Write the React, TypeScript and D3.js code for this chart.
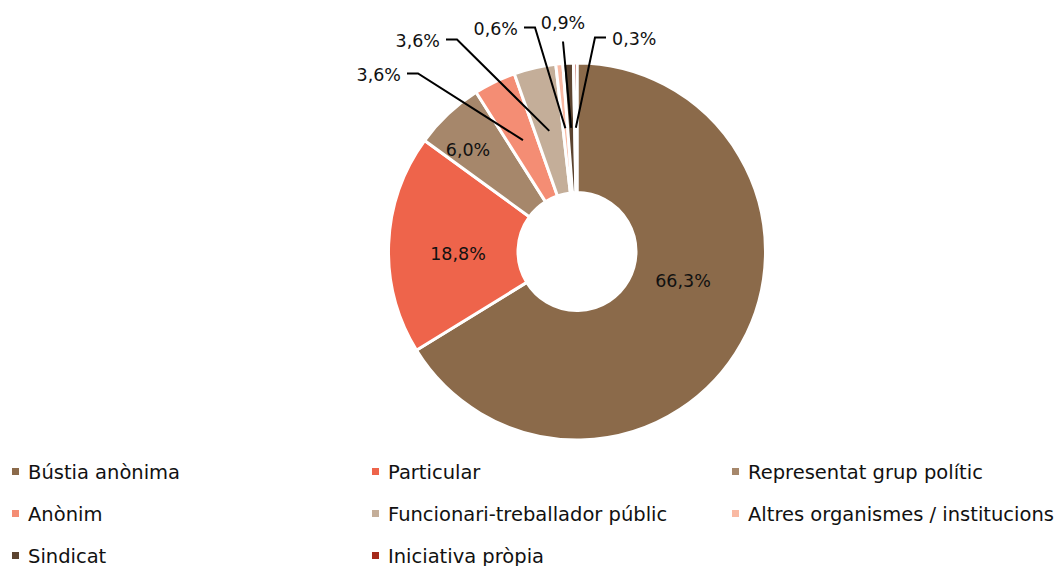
import React from "react";
import * as d3 from "d3";

const categories = [
  "Bústia anònima",
  "Particular",
  "Representat grup polític",
  "Anònim",
  "Funcionari-treballador públic",
  "Altres organismes / institucions",
  "Sindicat",
  "Iniciativa pròpia",
];
const values = [66.3, 18.8, 6.0, 3.6, 3.6, 0.6, 0.9, 0.3];
const valueLabels = ["66,3%", "18,8%", "6,0%", "3,6%", "3,6%", "0,6%", "0,9%", "0,3%"];
const colors = ["#8B6A4A", "#EE644B", "#A6876B", "#F48D74", "#C4AE99", "#F9B9A3", "#5C4430", "#A52A1A"];

// label layout (offsets relative to pie centre)
type Lay =
  | { kind: "in"; x: number; y: number }
  | { kind: "left" | "right"; ex: number; ey: number }
  | { kind: "up"; ex: number; ey: number };
const labelLayout: Lay[] = [
  { kind: "in", x: 106, y: 29 },
  { kind: "in", x: -119, y: 2 },
  { kind: "in", x: -109, y: -102 },
  { kind: "left", ex: -159, ey: -178 },
  { kind: "left", ex: -120, ey: -212 },
  { kind: "left", ex: -42, ey: -224 },
  { kind: "up", ex: -14, ey: -210 },
  { kind: "right", ex: 18, ey: -214 },
];

const W = 1059;
const H = 566;
const cx = 577;
const cy = 251.5;
const outerR = 188.5;
const innerR = 59;
const FONT = "'DejaVu Sans', sans-serif";
const LABEL_FS = 17.5;
const LEGEND_FS = 19.5;

export default function App() {
  const pie = d3
    .pie<number>()
    .value((d) => d)
    .sort(null)
    .startAngle(0)
    .endAngle(2 * Math.PI);
  const arcs = pie(values);
  const arc = d3.arc<d3.PieArcDatum<number>>().innerRadius(innerR).outerRadius(outerR);
  const midArc = d3
    .arc<d3.PieArcDatum<number>>()
    .innerRadius((innerR + outerR) / 2)
    .outerRadius((innerR + outerR) / 2);

  const legendX = d3.scaleOrdinal<number, number>().domain([0, 1, 2]).range([12, 372, 732]);
  const legendY = d3.scaleOrdinal<number, number>().domain([0, 1, 2]).range([479, 521, 563]);

  return (
    <svg
      width={W}
      height={H}
      style={{ position: "absolute", left: 0, top: 0, background: "#fff" }}
      fontFamily={FONT}
    >
      <g transform={`translate(${cx},${cy})`}>
        {arcs.map((a, i) => (
          <path key={i} d={arc(a) || ""} fill={colors[i]} stroke="#fff" strokeWidth={3} strokeLinejoin="round" />
        ))}
        {arcs.map((a, i) => {
          const lay = labelLayout[i];
          const [mx, my] = midArc.centroid(a);
          if (lay.kind === "in") {
            return (
              <text key={i} x={lay.x} y={lay.y} textAnchor="middle" dominantBaseline="central" fontSize={LABEL_FS} fill="#111">
                {valueLabels[i]}
              </text>
            );
          }
          if (lay.kind === "up") {
            return (
              <g key={i}>
                <line x1={mx} y1={my} x2={lay.ex} y2={lay.ey} stroke="#000" strokeWidth={2} />
                <text x={lay.ex} y={lay.ey - 19} textAnchor="middle" dominantBaseline="central" fontSize={LABEL_FS} fill="#111">
                  {valueLabels[i]}
                </text>
              </g>
            );
          }
          const dir = lay.kind === "left" ? -1 : 1;
          const hx = lay.ex + dir * 11;
          return (
            <g key={i}>
              <polyline
                points={`${mx},${my} ${lay.ex},${lay.ey} ${hx},${lay.ey}`}
                fill="none"
                stroke="#000"
                strokeWidth={2}
              />
              <text
                x={hx + dir * 6}
                y={lay.ey + 1}
                textAnchor={dir < 0 ? "end" : "start"}
                dominantBaseline="central"
                fontSize={LABEL_FS}
                fill="#111"
              >
                {valueLabels[i]}
              </text>
            </g>
          );
        })}
      </g>
      <g>
        {categories.map((c, i) => {
          const col = i % 3;
          const row = Math.floor(i / 3);
          const x = legendX(col);
          const y = legendY(row);
          return (
            <g key={c}>
              <rect x={x} y={y - 11} width={7} height={7} fill={colors[i]} />
              <text x={x + 16} y={y} fontSize={LEGEND_FS} fill="#111">
                {c}
              </text>
            </g>
          );
        })}
      </g>
    </svg>
  );
}
